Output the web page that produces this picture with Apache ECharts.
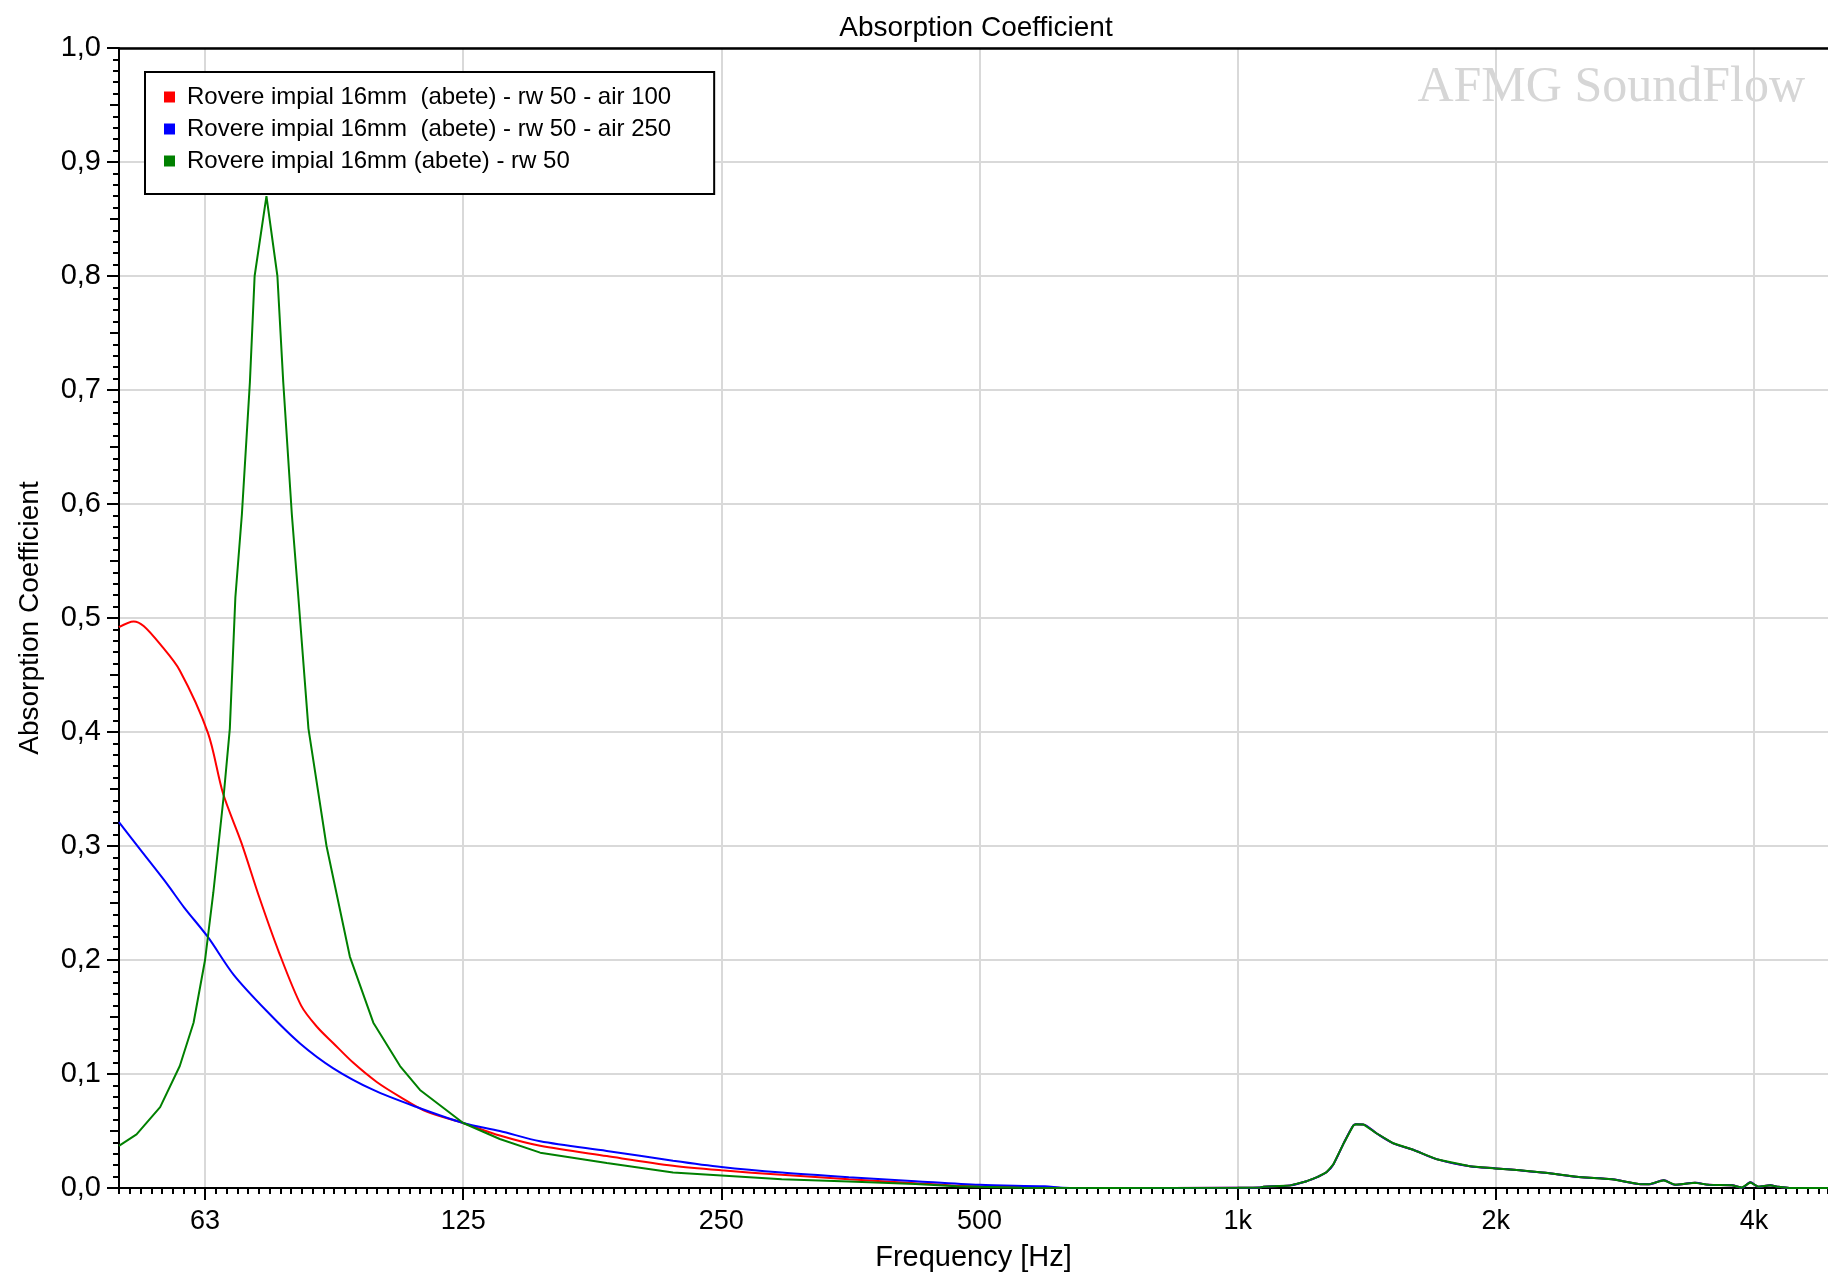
<!DOCTYPE html>
<html><head><meta charset="utf-8">
<script src="https://cdn.jsdelivr.net/npm/echarts@6/dist/echarts.min.js"></script>
<style>html,body{margin:0;padding:0;background:#fff}#c{width:1828px;height:1277px}</style>
</head><body><div id="c"></div>
<script>
// ---------- DATA ----------
const seriesNames = [
  'Rovere impial 16mm  (abete) - rw 50 - air 100',
  'Rovere impial 16mm  (abete) - rw 50 - air 250',
  'Rovere impial 16mm (abete) - rw 50'
];
const redFreq = [49.6, 51.6, 53, 55.4, 58.4, 63, 65.6, 68.9, 72.3, 76.2, 80.9, 84.5, 88.2, 93, 99.1, 105.5, 113.3, 125, 137.9, 153.7, 183.8, 219.6, 250, 294, 352, 421, 470, 500, 560, 620];
const redVal  = [0.492, 0.497, 0.493, 0.477, 0.454, 0.399, 0.346, 0.303, 0.255, 0.207, 0.160, 0.141, 0.127, 0.110, 0.093, 0.080, 0.067, 0.057, 0.046, 0.037, 0.028, 0.0195, 0.0155, 0.0116, 0.0077, 0.0042, 0.002, 0.0015, 0.0008, 0.0003];
const blueFreq = [49.6, 52.5, 56.4, 59.1, 63, 67.5, 73.8, 80.6, 88.2, 98.2, 110.3, 125, 137.9, 153.7, 183.8, 219.6, 250, 294, 352, 421, 500, 596, 625];
const blueVal  = [0.321, 0.297, 0.267, 0.246, 0.220, 0.187, 0.155, 0.127, 0.105, 0.086, 0.071, 0.057, 0.050, 0.041, 0.0325, 0.024, 0.0185, 0.0136, 0.0095, 0.006, 0.0028, 0.0015, 0.0003];
const greenFreq = [49.6, 52.0, 55.4, 58.4, 60.6, 62.5, 63.9, 65.65, 66.8, 67.8, 69.0, 70.5, 71.4, 73.7, 75.9, 77.1, 78.9, 80.3, 82.5, 86.6, 92.2, 98.2, 105.5, 111.3, 125, 137.9, 153.7, 183.8, 219.6, 250, 294, 352, 421, 470, 500, 560];
const greenVal  = [0.037, 0.047, 0.071, 0.107, 0.145, 0.200, 0.259, 0.341, 0.403, 0.518, 0.591, 0.707, 0.800, 0.870, 0.800, 0.707, 0.591, 0.518, 0.403, 0.300, 0.203, 0.145, 0.107, 0.086, 0.057, 0.043, 0.031, 0.022, 0.0135, 0.011, 0.0077, 0.0056, 0.0035, 0.0015, 0.001, 0.0003];
// high-frequency part, common to the three curves
const tailFreq = [700, 1000, 1063, 1072, 1152, 1204, 1240, 1270, 1293, 1331, 1364, 1374, 1403, 1453, 1519, 1602, 1706, 1866, 2000, 2133, 2285, 2499, 2733, 2935, 3015, 3139, 3239, 3418, 3542, 3771, 3874, 3961, 4050, 4179, 4272, 4400, 5000];
const tailVal  = [0, 0.0003, 0.0005, 0.0012, 0.0023, 0.006, 0.0098, 0.014, 0.0207, 0.040, 0.0548, 0.056, 0.0556, 0.0478, 0.0392, 0.0335, 0.0253, 0.019, 0.0172, 0.0155, 0.0134, 0.0096, 0.0076, 0.0035, 0.0032, 0.0068, 0.0028, 0.0045, 0.0028, 0.0024, 0.0003, 0.005, 0.001, 0.0025, 0.001, 0, 0];
const xTickFreqs  = [62.5, 125, 250, 500, 1000, 2000, 4000];
const xTickLabels = ['63', '125', '250', '500', '1k', '2k', '4k'];
const xMinFreq = 62.5 * Math.pow(2, -1/3);
const xMaxFreq = 4880;
const yMin = 0, yMax = 1, yStep = 0.1;

// ---------- BUILD ----------
const REF = 62.5;
const oct = f => Math.log2(f / REF);
function build(fs, vs) {
  const d = [];
  for (let i = 0; i < fs.length; i++) d.push([oct(fs[i]), vs[i]]);
  for (let i = 0; i < tailFreq.length; i++) d.push([oct(tailFreq[i]), tailVal[i]]);
  return d;
}
const FONT = "'Liberation Sans', Arial, sans-serif";
const xMin = -1/3, xMax = oct(xMaxFreq);
const majorX = xTickFreqs.map(oct);

const chart = echarts.init(document.getElementById('c'), null, {renderer: 'canvas'});
const colors = ['#ff0000', '#0000ff', '#008000'];
chart.setOption({
  animation: false,
  backgroundColor: '#ffffff',
  grid: {left: 119, right: 0, top: 48, bottom: 85, containLabel: false},
  graphic: [
    {type: 'text', x: 976, y: 28, z: 10,
     style: {text: 'Absorption Coefficient', font: "28px 'Liberation Sans', Arial, sans-serif", fill: '#000', textAlign: 'center', textVerticalAlign: 'middle'}},
    {type: 'text', x: 1805, y: 88, z: -1, silent: true,
     style: {text: 'AFMG SoundFlow', font: "50px 'Liberation Serif', 'Times New Roman', serif", fill: '#d6d6d6', textAlign: 'right', textVerticalAlign: 'middle'}}
  ],
  legend: {
    data: seriesNames,
    orient: 'vertical',
    left: 145, top: 72,
    padding: [12, 43, 20, 19],
    itemGap: 6,
    itemWidth: 11, itemHeight: 11,
    icon: 'rect',
    borderColor: '#000', borderWidth: 2,
    backgroundColor: '#fff',
    textStyle: {fontFamily: FONT, fontSize: 24, color: '#000', lineHeight: 26, padding: [0, 0, 0, 7]}
  },
  xAxis: [
    {
      type: 'value', min: xMin, max: xMax, position: 'bottom',
      name: 'Frequency [Hz]', nameLocation: 'middle', nameGap: 55,
      nameTextStyle: {fontFamily: FONT, fontSize: 29, color: '#000'},
      axisLine: {show: true, onZero: false, lineStyle: {color: '#000', width: 2}},
      axisTick: {show: true, customValues: majorX, length: 12, lineStyle: {color: '#000', width: 2}},
      axisLabel: {show: true, customValues: majorX, margin: 20, fontFamily: FONT, fontSize: 27, color: '#000',
        formatter: v => { const i = majorX.findIndex(m => Math.abs(m - v) < 1e-6); return i >= 0 ? xTickLabels[i] : ''; }},
      splitLine: {show: true, lineStyle: {color: '#d9d9d9', width: 2}}
    },
    {
      type: 'value', min: xMin, max: xMax, interval: 1/24, position: 'bottom',
      axisLine: {show: false, onZero: false},
      axisTick: {show: true, length: 6, lineStyle: {color: '#000', width: 2}},
      axisLabel: {show: false}, splitLine: {show: false}
    },
    {
      type: 'value', min: xMin, max: xMax, position: 'top',
      axisLine: {show: true, onZero: false, lineStyle: {color: '#000', width: 2.5}},
      axisTick: {show: false}, axisLabel: {show: false}, splitLine: {show: false}
    }
  ],
  yAxis: [
    {
      type: 'value', min: yMin, max: yMax, interval: yStep, position: 'left',
      name: 'Absorption Coefficient', nameLocation: 'middle', nameGap: 75, nameRotate: 90,
      nameTextStyle: {fontFamily: FONT, fontSize: 28, color: '#000'},
      axisLine: {show: true, onZero: false, lineStyle: {color: '#000', width: 2}},
      axisTick: {show: true, length: 12, lineStyle: {color: '#000', width: 2}},
      minorTick: {show: true, splitNumber: 10, length: 6, lineStyle: {color: '#000', width: 2}},
      axisLabel: {margin: 18, fontFamily: FONT, fontSize: 29, color: '#000',
        formatter: v => v.toFixed(1).replace('.', ',')},
      splitLine: {show: true, lineStyle: {color: '#d9d9d9', width: 2}}
    },
    {
      type: 'value', min: yMin, max: yMax, interval: yStep / 2, position: 'left',
      axisLine: {show: false, onZero: false},
      axisTick: {show: true, length: 9, lineStyle: {color: '#000', width: 2}},
      axisLabel: {show: false}, splitLine: {show: false}
    }
  ],
  series: [
    {name: seriesNames[0], type: 'line', data: build(redFreq, redVal), showSymbol: false, symbol: 'none',
     smooth: 0.3,
     itemStyle: {color: colors[0]}, lineStyle: {color: colors[0], width: 2}, z: 3},
    {name: seriesNames[1], type: 'line', data: build(blueFreq, blueVal), showSymbol: false, symbol: 'none',
     smooth: 0.3,
     itemStyle: {color: colors[1]}, lineStyle: {color: colors[1], width: 2}, z: 4},
    {name: seriesNames[2], type: 'line', data: build(greenFreq, greenVal), showSymbol: false, symbol: 'none',
     itemStyle: {color: colors[2]}, lineStyle: {color: colors[2], width: 2}, z: 5}
  ]
});
</script></body></html>
